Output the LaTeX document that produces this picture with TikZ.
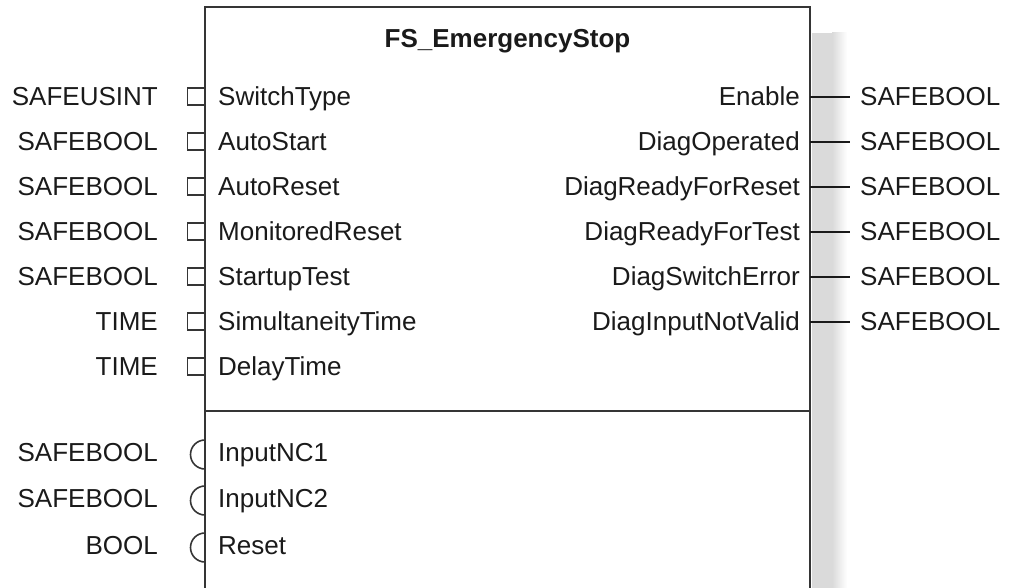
\documentclass[tikz,border=0pt]{standalone}
\usepackage{fontspec}
\setmainfont{Liberation Sans}
\definecolor{boxline}{HTML}{353535}
\definecolor{shadowgray}{HTML}{DADADA}
\definecolor{txt}{HTML}{1A1A1A}
\begin{document}
\begin{tikzpicture}[x=1pt,y=-1pt,
  lbl/.style={inner sep=0pt,text=txt,font=\fontsize{26}{30}\selectfont},
  ttl/.style={inner sep=0pt,text=txt,font=\fontsize{26}{30}\selectfont\bfseries},
  fbline/.style={draw=boxline,line width=2pt},
  pinsq/.style={draw=boxline,line width=1.5pt,minimum size=17pt,inner sep=0pt},
  pinarc/.style={draw=boxline,line width=1.6pt},
  outline/.style={draw=txt,line width=1.6pt,shorten >=10pt}]
\useasboundingbox (0,0) rectangle (1016,588);
% shadow
\fill[shadowgray] (812,33) rectangle (832,600);
\shade[left color=shadowgray,right color=white] (832,33) rectangle (847,600);
% block
\coordinate (tl) at (205,7);
\coordinate (tr) at (810,7);
\coordinate (bl) at (205,600);
\coordinate (br) at (810,600);
\fill[white] (tl) rectangle (br);
\draw[fbline] (bl) -- (tl) -- (tr) -- (br);
\coordinate (dl) at (205,411);
\coordinate (dr) at (810,411);
\draw[fbline] (dl) -- (dr);
\node[ttl,anchor=base] (title) at (507.5,47.3) {FS\_EmergencyStop};
% inputs
\foreach \i/\t/\n/\y in {1/SAFEUSINT/SwitchType/96, 2/SAFEBOOL/AutoStart/141, 3/SAFEBOOL/AutoReset/186, 4/SAFEBOOL/MonitoredReset/231, 5/SAFEBOOL/StartupTest/276, 6/TIME/SimultaneityTime/321, 7/TIME/DelayTime/366}{
  \node[lbl,anchor=base east] (ti\i) at (158,\y+9.3) {\t};
  \node[lbl,anchor=base west] (in\i) at (218,\y+9.3) {\n};
  \node[pinsq,anchor=east] (pin\i) at (205,\y+0.5) {};
}
% edge inputs
\foreach \i/\t/\n/\y in {1/SAFEBOOL/InputNC1/452, 2/SAFEBOOL/InputNC2/498, 3/BOOL/Reset/545}{
  \node[lbl,anchor=base east] (te\i) at (158,\y+9.3) {\t};
  \node[lbl,anchor=base west] (ie\i) at (218,\y+9.3) {\n};
  \coordinate (ea\i) at (205,\y+2.5-14.5);
  \draw[pinarc] (ea\i) arc[start angle=270,end angle=90,radius=14.5];
}
% outputs
\foreach \i/\n/\y in {1/Enable/96, 2/DiagOperated/141, 3/DiagReadyForReset/186, 4/DiagReadyForTest/231, 5/DiagSwitchError/276, 6/DiagInputNotValid/321}{
  \node[lbl,anchor=base east] (on\i) at (800,\y+9.3) {\n};
  \node[lbl,anchor=base west] (to\i) at (860,\y+9.3) {SAFEBOOL};
  \coordinate (oe\i) at (810,\y+1);
  \draw[outline] (oe\i) -- (oe\i -| to\i.west);
}
\end{tikzpicture}
\end{document}
